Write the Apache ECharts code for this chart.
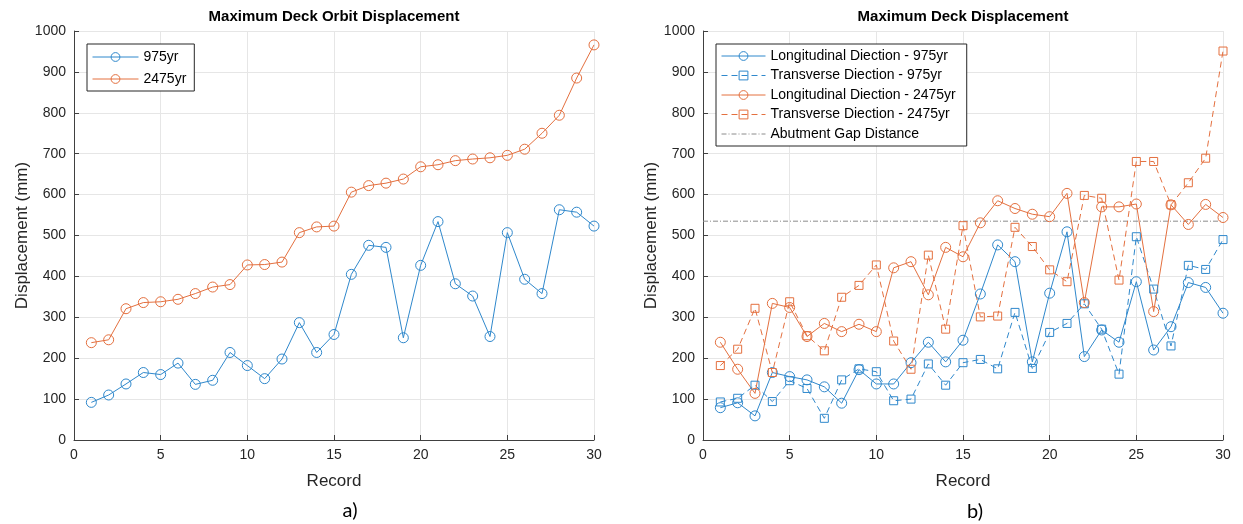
<!DOCTYPE html>
<html>
<head>
<meta charset="utf-8">
<script src="https://cdn.jsdelivr.net/npm/echarts@6/dist/echarts.min.js"></script>
<style>
  html, body { margin: 0; padding: 0; background: #ffffff; }
  #chart { width: 1243px; height: 524px; }
</style>
</head>
<body>
<div id="chart"></div>
<script>
// Record numbers (x axis)
const records = [1, 2, 3, 4, 5, 6, 7, 8, 9, 10, 11, 12, 13, 14, 15,
                 16, 17, 18, 19, 20, 21, 22, 23, 24, 25, 26, 27, 28, 29, 30];

// a) Maximum deck orbit displacement (mm)
const orbit975  = [92, 110, 137, 165, 160, 188, 136, 146, 214, 182, 150, 198, 287, 214, 258,
                   405, 476, 471, 250, 427, 534, 382, 352, 253, 507, 393, 358, 563, 557, 523];
const orbit2475 = [238, 245, 321, 336, 338, 344, 358, 374, 380, 428, 429, 435, 507, 521, 523,
                   606, 622, 628, 638, 668, 673, 683, 687, 690, 696, 711, 750, 794, 885, 966];

// b) Maximum deck displacement by direction (mm)
const long975   = [79, 91, 59, 165, 155, 147, 130, 90, 172, 137, 137, 189, 239, 191, 244,
                   357, 477, 436, 191, 359, 509, 204, 269, 239, 387, 220, 277, 385, 373, 310];
const trans975  = [93, 102, 134, 94, 145, 126, 53, 147, 174, 167, 96, 100, 186, 134, 189,
                   197, 174, 312, 175, 263, 285, 333, 271, 161, 497, 369, 230, 427, 417, 490];
const long2475  = [239, 173, 114, 334, 324, 253, 285, 265, 283, 265, 421, 436, 355, 471, 448,
                   531, 585, 566, 552, 546, 603, 336, 570, 570, 577, 314, 575, 527, 576, 544];
const trans2475 = [182, 222, 322, 165, 338, 255, 218, 349, 378, 428, 242, 173, 452, 271, 524,
                   301, 303, 520, 473, 416, 387, 598, 591, 391, 681, 681, 575, 629, 689, 951];

// Abutment gap distance (mm), drawn across the full record range
const gapDistance = 535;
const gapRange = [0, 30];

// Axis ticks
const xTicks = { min: 0, max: 30, step: 5 };
const yTicks = { min: 0, max: 1000, step: 100 };

const BLUE = '#2f88cc';
const ORANGE = '#e4703f';
const FONT = "'Liberation Sans', Arial, Helvetica, sans-serif";
const AXIS_DARK = '#404040';
const TEXT_DARK = '#262626';

const pairs = (ys) => records.map((r, i) => [r, ys[i]]);
const plainNumber = (v) => String(v);

function xAxisFor(gridIndex) {
  return {
    gridIndex, type: 'value', min: xTicks.min, max: xTicks.max, interval: xTicks.step,
    name: 'Record', nameLocation: 'middle', nameGap: 33,
    nameTextStyle: { fontSize: 17, color: TEXT_DARK, fontFamily: FONT },
    axisLine: { show: true, onZero: false, lineStyle: { color: AXIS_DARK, width: 1 } },
    axisTick: { show: true, inside: true, length: 5, lineStyle: { color: AXIS_DARK } },
    axisLabel: { color: TEXT_DARK, fontSize: 14, margin: 8, fontFamily: FONT, formatter: plainNumber },
    splitLine: { show: true, lineStyle: { color: '#e6e6e6', width: 1 } }
  };
}
function yAxisFor(gridIndex) {
  return {
    gridIndex, type: 'value', min: yTicks.min, max: yTicks.max, interval: yTicks.step,
    name: 'Displacement (mm)', nameLocation: 'middle', nameGap: 42,
    nameTextStyle: { fontSize: 17, color: TEXT_DARK, fontFamily: FONT },
    axisLine: { show: true, onZero: false, lineStyle: { color: AXIS_DARK, width: 1 } },
    axisTick: { show: true, inside: true, length: 5, lineStyle: { color: AXIS_DARK } },
    axisLabel: { color: TEXT_DARK, fontSize: 14, margin: 8, fontFamily: FONT, formatter: plainNumber },
    splitLine: { show: true, lineStyle: { color: '#e6e6e6', width: 1 } }
  };
}

function markedLine(name, gridIndex, values, color, shape, dashed) {
  return {
    name, type: 'line', xAxisIndex: gridIndex, yAxisIndex: gridIndex,
    data: pairs(values),
    symbol: shape === 'square' ? 'rect' : 'circle',
    symbolSize: shape === 'square' ? 8 : 10,
    showAllSymbol: true,
    itemStyle: { color: 'rgba(0,0,0,0)', borderColor: color, borderWidth: 1 },
    lineStyle: { color, width: 1, type: dashed ? [6, 4] : 'solid' },
    emphasis: { disabled: true },
    silent: true
  };
}

const names = {
  o975: '975yr', o2475: '2475yr',
  l975: 'Longitudinal Diection - 975yr', t975: 'Transverse Diection - 975yr',
  l2475: 'Longitudinal Diection - 2475yr', t2475: 'Transverse Diection - 2475yr',
  gap: 'Abutment Gap Distance'
};

const legendCommon = {
  orient: 'vertical',
  backgroundColor: '#ffffff',
  borderColor: TEXT_DARK, borderWidth: 1, borderRadius: 0,
  itemHeight: 11,
  itemStyle: { borderWidth: 1 },
  lineStyle: { width: 1 },
  textStyle: { fontSize: 14, color: '#000000', fontFamily: FONT },
  selectedMode: false
};

const option = {
  animation: false,
  backgroundColor: '#ffffff',
  grid: [
    { left: 74, top: 31, width: 520, height: 409 },
    { left: 703, top: 31, width: 520, height: 409 }
  ],
  xAxis: [xAxisFor(0), xAxisFor(1)],
  yAxis: [yAxisFor(0), yAxisFor(1)],
  legend: [
    Object.assign({}, legendCommon, {
      left: 87, top: 44, padding: [6, 8, 5, 5], itemGap: 8, itemWidth: 46,
      data: [names.o975, names.o2475]
    }),
    Object.assign({}, legendCommon, {
      left: 716, top: 44, padding: [5, 11, 5, 5], itemGap: 5.5, itemWidth: 44,
      data: [names.l975, names.t975, names.l2475, names.t2475,
             { name: names.gap, itemStyle: { color: 'rgba(0,0,0,0)', borderColor: 'rgba(0,0,0,0)', borderWidth: 0 } }]
    })
  ],
  graphic: [
    { type: 'text', x: 334, y: 17, silent: true,
      style: { text: 'Maximum Deck Orbit Displacement', textAlign: 'center', textVerticalAlign: 'middle',
               font: "bold 15px 'Liberation Sans', Arial, sans-serif", fill: '#000000' } },
    { type: 'text', x: 963, y: 17, silent: true,
      style: { text: 'Maximum Deck Displacement', textAlign: 'center', textVerticalAlign: 'middle',
               font: "bold 15px 'Liberation Sans', Arial, sans-serif", fill: '#000000' } },
    { type: 'text', x: 350, y: 511, silent: true,
      style: { text: 'a)', textAlign: 'center', textVerticalAlign: 'middle',
               font: "20px Lato, 'Open Sans', sans-serif", fill: '#000000' } },
    { type: 'text', x: 975, y: 512, silent: true,
      style: { text: 'b)', textAlign: 'center', textVerticalAlign: 'middle',
               font: "20px Lato, 'Open Sans', sans-serif", fill: '#000000' } }
  ],
  series: [
    markedLine(names.o975, 0, orbit975, BLUE, 'circle', false),
    markedLine(names.o2475, 0, orbit2475, ORANGE, 'circle', false),
    markedLine(names.l975, 1, long975, BLUE, 'circle', false),
    markedLine(names.t975, 1, trans975, BLUE, 'square', true),
    markedLine(names.l2475, 1, long2475, ORANGE, 'circle', false),
    markedLine(names.t2475, 1, trans2475, ORANGE, 'square', true),
    {
      name: names.gap, type: 'line', xAxisIndex: 1, yAxisIndex: 1,
      data: gapRange.map(x => [x, gapDistance]),
      symbol: 'circle', showSymbol: false,
      itemStyle: { color: 'rgba(0,0,0,0)', borderColor: 'rgba(0,0,0,0)', borderWidth: 0 },
      lineStyle: { color: '#8c8c8c', width: 1, type: [5, 2, 1, 2] },
      emphasis: { disabled: true }, silent: true, z: 1
    }
  ]
};

const chart = echarts.init(document.getElementById('chart'), null, { renderer: 'canvas' });
chart.setOption(option);
</script>
</body>
</html>
